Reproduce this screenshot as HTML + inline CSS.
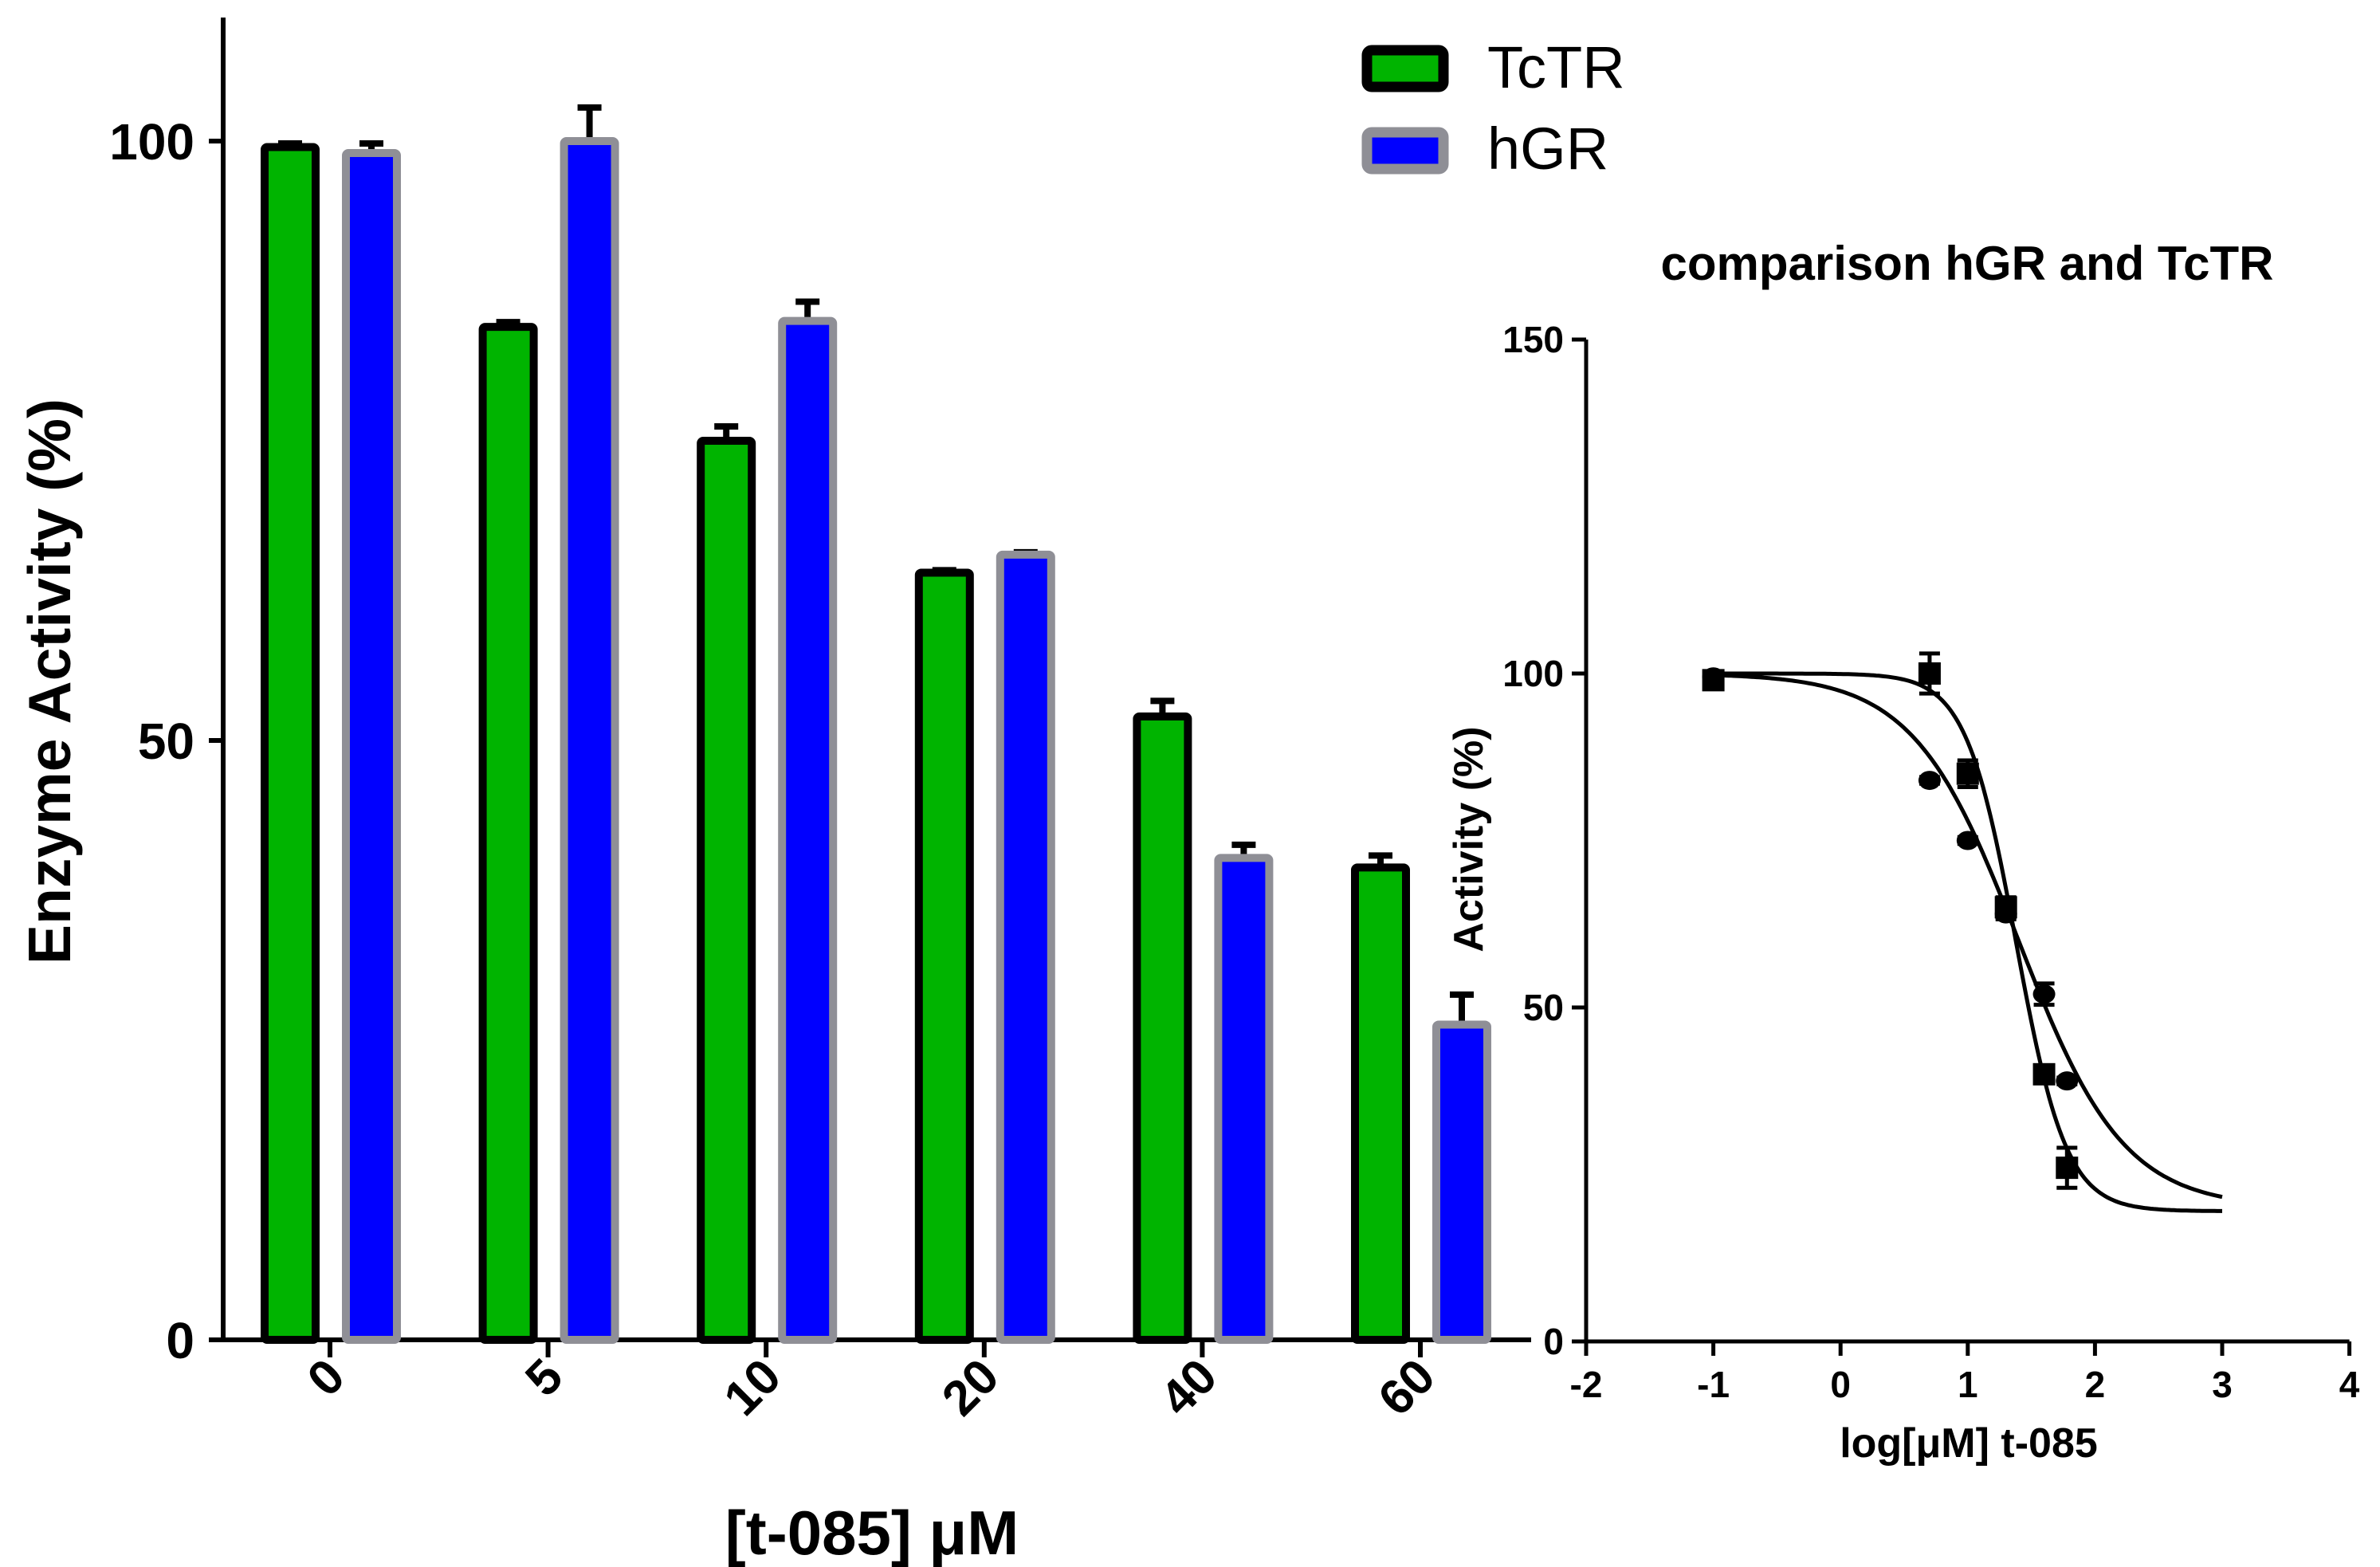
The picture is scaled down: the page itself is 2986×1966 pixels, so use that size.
<!DOCTYPE html>
<html><head><meta charset="utf-8"><style>
html,body{margin:0;padding:0;background:#fff}
svg{display:block}
text{font-family:"Liberation Sans",Arial,sans-serif;fill:#000}
</style></head><body>
<svg id="chart" width="2986" height="1966" viewBox="0 0 2986 1966" xmlns="http://www.w3.org/2000/svg">
<g id="left"></g>
<g id="right"></g>
<g>
  <rect x="1715" y="63" width="96" height="46" rx="6" fill="#00b400" stroke="#000" stroke-width="13"/>
  <text x="1866" y="110" font-size="74">TcTR</text>
  <rect x="1715" y="166" width="96" height="46" rx="6" fill="#0000ff" stroke="#8f8f96" stroke-width="13"/>
  <text x="1866" y="212" font-size="74">hGR</text>
</g>
</svg>
<script>
// ---- bar chart data ----
const categories = ["0","5","10","20","40","60"];
const tctrValues = [99.5,84.5,75,64,52,39.4];
const tctrErrors = [0.3,0.4,1.2,0.2,1.3,1.0];
const hgrValues = [99,100,85,65.5,40.2,26.3];
const hgrErrors = [0.8,2.8,1.6,0.2,1.1,2.5];
const barYTicks = [0,50,100];
// ---- dose-response data ----
const tctrLogX = [-1,0.7,1,1.3,1.6,1.78];
const tctrY = [99.5,84,75,64,52,39];
const tctrYErr = [0.5,0.5,0.5,0.8,1.6,0.5];
const hgrLogX = [-1,0.7,1,1.3,1.6,1.78];
const hgrY = [99,100,85,65,40,26];
const hgrYErr = [0.5,3,2,1.5,0.8,3];
const tctrFit = [100,20,1.4,1.05];   // top, bottom, logIC50, hill
const hgrFit = [100,19.5,1.38,2.2];
const doseXTicks = [-2,-1,0,1,2,3,4];
const doseYTicks = [0,50,100,150];

const NS="http://www.w3.org/2000/svg";
function mk(parent,tag,attrs,txt){const e=document.createElementNS(NS,tag);for(const k in attrs)e.setAttribute(k,attrs[k]);if(txt!==undefined)e.textContent=txt;parent.appendChild(e);return e;}

// ---- left chart ----
const L=document.getElementById('left');
const LY0=1681, LU=15.04;
const ly=v=>LY0-v*LU;
const lx=i=>414+i*273.6;
let e;
e=mk(L,'line',{x1:280,y1:22,x2:280,y2:LY0,stroke:'#000','stroke-width':6});


e=mk(L,'line',{x1:264,y1:LY0,x2:1921,y2:LY0,stroke:'#000','stroke-width':6});


barYTicks.forEach(t=>{
  mk(L,'line',{x1:262,y1:ly(t),x2:280,y2:ly(t),stroke:'#000','stroke-width':6});
  e=mk(L,'text',{x:244,y:ly(t)+23,'font-size':64,'font-weight':'bold','text-anchor':'end'},String(t));
  
  
});
function drawBar(cx,v,err,fill,stroke,name){
  const w=64,top=ly(v);
  const et=ly(v+err);
  mk(L,'line',{x1:cx,y1:top,x2:cx,y2:et,stroke:'#000','stroke-width':8});
  mk(L,'line',{x1:cx-15,y1:et,x2:cx+15,y2:et,stroke:'#000','stroke-width':8});
  e=mk(L,'rect',{x:cx-w/2,y:top,width:w,height:LY0-top,fill:fill,stroke:stroke,'stroke-width':10,rx:3});
  
  
}
categories.forEach((c,i)=>{
  const x=lx(i);
  mk(L,'line',{x1:x,y1:LY0,x2:x,y2:LY0+22,stroke:'#000','stroke-width':6});
  drawBar(x-50,tctrValues[i],tctrErrors[i],'#00b400','#000','bar-tctr-'+c);
  drawBar(x+52,hgrValues[i],hgrErrors[i],'#0000ff','#8f8f96','bar-hgr-'+c);
  e=mk(L,'text',{x:0,y:0,'font-size':62,'font-weight':'bold','text-anchor':'end',transform:`translate(${x+22},${LY0+50}) rotate(-45)`},c);
  
  
});
e=mk(L,'text',{x:0,y:0,'font-size':75,'font-weight':'bold','text-anchor':'middle',transform:'translate(88,855) rotate(-90)'},'Enzyme Activity (%)');


e=mk(L,'text',{x:1094,y:1980-30,'font-size':78,'font-weight':'bold','text-anchor':'middle'},'[t-085] μM');



// ---- right chart ----
const R=document.getElementById('right');
const RX0=1990, RXU=159.6, RY0=1683, RYU=8.38;
const rx=v=>RX0+(v+2)*RXU;
const ry=v=>RY0-v*RYU;
e=mk(R,'line',{x1:RX0,y1:ry(150),x2:RX0,y2:RY0,stroke:'#000','stroke-width':5});


e=mk(R,'line',{x1:RX0,y1:RY0,x2:rx(4),y2:RY0,stroke:'#000','stroke-width':5});


doseYTicks.forEach(t=>{
  mk(R,'line',{x1:RX0-18,y1:ry(t),x2:RX0,y2:ry(t),stroke:'#000','stroke-width':5});
  e=mk(R,'text',{x:RX0-28,y:ry(t)+16,'font-size':46,'font-weight':'bold','text-anchor':'end'},String(t));
  
  
});
doseXTicks.forEach(t=>{
  mk(R,'line',{x1:rx(t),y1:RY0,x2:rx(t),y2:RY0+18,stroke:'#000','stroke-width':5});
  e=mk(R,'text',{x:rx(t),y:RY0+70,'font-size':46,'font-weight':'bold','text-anchor':'middle'},String(t));
  
  
});
function curve(p,name){
  let d='';
  for(let i=0;i<=200;i++){const x=-1+4*i/200;const y=p[1]+(p[0]-p[1])/(1+Math.pow(10,(x-p[2])*p[3]));d+=(i?'L':'M')+rx(x).toFixed(1)+','+ry(y).toFixed(1);}
  e=mk(R,'path',{d:d,fill:'none',stroke:'#000','stroke-width':5});
  
  
}
curve(tctrFit,'fit-curve-tctr');
curve(hgrFit,'fit-curve-hgr');
function errbar(x,y,err){
  const cx=rx(x),t=ry(y+err),b=ry(y-err);
  mk(R,'line',{x1:cx,y1:t,x2:cx,y2:b,stroke:'#000','stroke-width':5});
  mk(R,'line',{x1:cx-13,y1:t,x2:cx+13,y2:t,stroke:'#000','stroke-width':5});
  mk(R,'line',{x1:cx-13,y1:b,x2:cx+13,y2:b,stroke:'#000','stroke-width':5});
}
tctrLogX.forEach((x,i)=>{
  errbar(x,tctrY[i],tctrYErr[i]);
  e=mk(R,'ellipse',{cx:rx(x),cy:ry(tctrY[i]),rx:14,ry:12,fill:'#000'});
  
  
});
hgrLogX.forEach((x,i)=>{
  errbar(x,hgrY[i],hgrYErr[i]);
  e=mk(R,'rect',{x:rx(x)-14,y:ry(hgrY[i])-14,width:28,height:28,fill:'#000'});
  
  
});
e=mk(R,'text',{x:2468,y:351,'font-size':60,'font-weight':'bold','text-anchor':'middle'},'comparison hGR and TcTR');


e=mk(R,'text',{x:0,y:0,'font-size':52,'font-weight':'bold','text-anchor':'middle',transform:'translate(1860,1053) rotate(-90)'},'Activity (%)');


e=mk(R,'text',{x:2470,y:1828,'font-size':52,'font-weight':'bold','text-anchor':'middle'},'log[μM] t-085');


</script>
</body></html>
